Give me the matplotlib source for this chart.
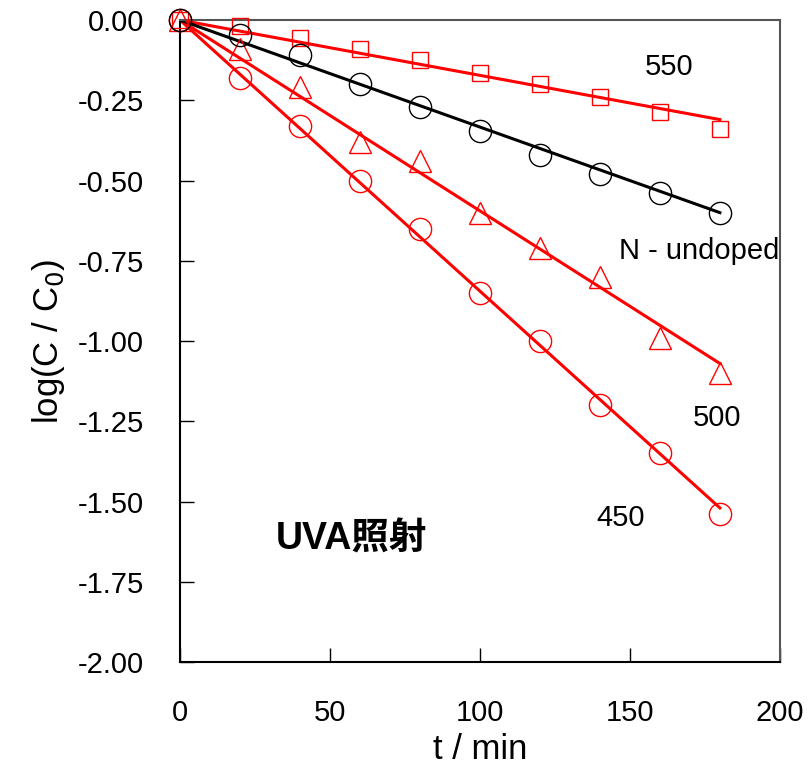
import numpy as np
import matplotlib.pyplot as plt

# data
t = [0, 20, 40, 60, 80, 100, 120, 140, 160, 180]
y_550 = [0, -0.02, -0.056, -0.09, -0.125, -0.165, -0.20, -0.24, -0.285, -0.34]
y_undoped = [0, -0.045, -0.11, -0.20, -0.27, -0.345, -0.42, -0.48, -0.54, -0.60]
y_500 = [0, -0.09, -0.21, -0.38, -0.44, -0.60, -0.71, -0.80, -0.99, -1.10]
y_450 = [0, -0.18, -0.33, -0.50, -0.65, -0.85, -1.00, -1.20, -1.35, -1.54]

# end points of the fitted lines
fit_t = [0, 180]
fit_550 = [0, -0.31]
fit_undoped = [0, -0.60]
fit_500 = [0, -1.07]
fit_450 = [0, -1.52]

x_ticks = [0, 50, 100, 150, 200]
y_ticks = [0, -0.25, -0.5, -0.75, -1.0, -1.25, -1.5, -1.75, -2.0]

plt.rcParams['font.family'] = ['Liberation Sans', 'Noto Sans CJK JP']

fig = plt.figure(figsize=(8.09, 7.72), dpi=100)
ax = fig.add_axes([0.2225, 0.1425, 0.7415, 0.8315])

red = '#ff0000'
series = [
    (y_450, fit_450, red, 'o', 16),
    (y_500, fit_500, red, '^', 16),
    (y_550, fit_550, red, 's', 12),
    (y_undoped, fit_undoped, 'black', 'o', 16),
]
for ys, fit, col, mk, ms in series:
    ax.plot(fit_t, fit, color=col, lw=2.2, zorder=2)
    ax.plot(t, ys, linestyle='none', marker=mk, ms=ms, mfc='none',
            mec=col, mew=1.0, clip_on=False, zorder=3)

ax.set_xlim(0, 200)
ax.set_ylim(-2.0, 0.0)
ax.set_xticks(x_ticks)
ax.set_yticks(y_ticks)
ax.set_xticklabels([str(v) for v in x_ticks])
ax.set_yticklabels(['%.2f' % v if v != 0 else '0.00' for v in y_ticks])
ax.tick_params(direction='in', length=10, width=1, labelsize=21, pad=26)
ax.tick_params(axis='x', pad=27)

for s in ['left', 'bottom']:
    ax.spines[s].set_linewidth(1.5)
    ax.spines[s].set_color('black')
for s in ['top', 'right']:
    ax.spines[s].set_linewidth(1.5)
    ax.spines[s].set_color('#555555')

ax.set_xlabel('t / min', fontsize=25, labelpad=4)
ax.set_ylabel('log(C / C$_0$)', fontsize=25, labelpad=8)

ax.text(163, -0.145, '550', fontsize=21, ha='center', va='center')
ax.text(173, -0.72, 'N - undoped', fontsize=21, ha='center', va='center')
ax.text(179, -1.24, '500', fontsize=21, ha='center', va='center')
ax.text(147, -1.55, '450', fontsize=21, ha='center', va='center')
ax.text(57, -1.62, 'UVA照射', fontsize=27, fontweight='bold',
        ha='center', va='center')

fig.savefig('out.png', dpi=100)
